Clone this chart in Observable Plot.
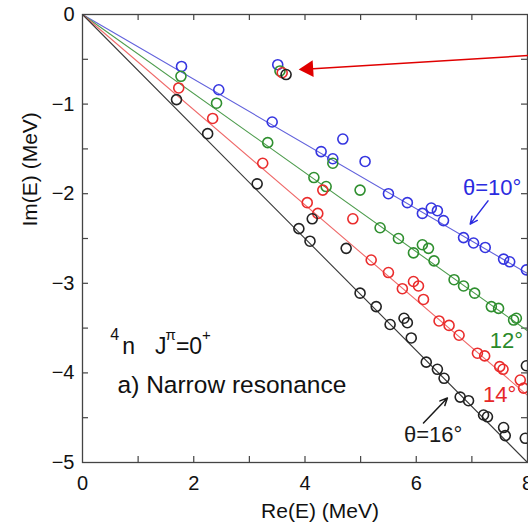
<!DOCTYPE html>
<html>
<head>
<meta charset="utf-8">
<script src="https://cdn.jsdelivr.net/npm/d3@7"></script>
<script src="https://cdn.jsdelivr.net/npm/@observablehq/plot@0.6"></script>
<style>
  html, body { margin: 0; padding: 0; background: white; overflow: hidden; }
</style>
</head>
<body>
<div id="chart"></div>
<script>
// ---- Data ----
// Complex-scaled eigenvalues [Re(E), Im(E)] in MeV for each scaling angle θ
const theta10 = [[1.78,-0.58],[2.45,-0.84],[3.41,-1.20],[4.29,-1.53],[4.50,-1.61],[4.68,-1.39],[5.08,-1.64],
  [5.50,-2.00],[5.84,-2.10],[6.11,-2.22],[6.27,-2.16],[6.38,-2.19],[6.49,-2.30],[6.85,-2.49],[7.03,-2.55],
  [7.24,-2.60],[7.57,-2.73],[7.68,-2.76],[7.98,-2.85],[3.51,-0.56]];
const theta12 = [[1.77,-0.69],[2.41,-0.99],[3.33,-1.43],[4.50,-1.66],[4.16,-1.82],[4.38,-1.92],[4.99,-1.96],
  [5.35,-2.38],[5.68,-2.50],[5.95,-2.66],[6.11,-2.57],[6.22,-2.61],[6.32,-2.75],[6.68,-2.96],[6.85,-3.03],
  [7.05,-3.11],[7.35,-3.26],[7.48,-3.28],[7.75,-3.41],[7.80,-3.39],[3.55,-0.63]];
const theta14 = [[1.73,-0.82],[2.34,-1.16],[3.24,-1.66],[4.32,-1.96],[4.04,-2.10],[4.23,-2.22],[4.86,-2.28],
  [5.19,-2.74],[5.50,-2.88],[5.75,-3.06],[5.95,-2.98],[6.04,-3.03],[6.13,-3.18],[6.41,-3.42],[6.59,-3.47],
  [6.77,-3.58],[7.10,-3.78],[7.23,-3.81],[7.50,-3.93],[7.56,-3.96],[7.87,-4.08],[7.93,-4.17],[3.59,-0.65]];
const theta16 = [[1.69,-0.95],[2.25,-1.33],[3.14,-1.89],[4.13,-2.28],[3.89,-2.39],[4.09,-2.53],[4.74,-2.61],
  [4.99,-3.11],[5.28,-3.26],[5.53,-3.46],[5.78,-3.39],[5.84,-3.44],[5.91,-3.61],[6.18,-3.88],[6.38,-3.96],
  [6.50,-4.06],[6.79,-4.27],[6.94,-4.31],[7.21,-4.47],[7.28,-4.49],[7.57,-4.61],[7.60,-4.70],[7.98,-3.92],
  [7.96,-4.73],[3.66,-0.67]];

// Rotated continuum lines: from origin to their value at Re(E)=8
const lineEnds = {t10: -2.89, t12: -3.53, t14: -4.25, t16: -5.0};

// Axis ticks
const xTickLabels = [0, 2, 4, 6, 8];
const xMinorTicks = [1, 2, 3, 4, 5, 6, 7];
const yTickLabels = [0, -1, -2, -3, -4, -5];
const yMinorTicks = [-0.5, -1, -1.5, -2, -2.5, -3, -3.5, -4, -4.5];

// Annotations
const angleLabels = [
  {x: 6.84, y: -2.02, text: "θ=10°", color: "#2b2be0"},
  {x: 7.32, y: -3.72, text: "12°", color: "#2a8a2a"},
  {x: 7.20, y: -4.33, text: "14°", color: "#e62828"},
  {x: 5.78, y: -4.77, text: "θ=16°", color: "#1a1a1a"}
];
const angleArrows = [
  {x1: 7.29, y1: -2.08, x2: 6.97, y2: -2.34, color: "#2b2be0"},
  {x1: 6.13, y1: -4.56, x2: 6.56, y2: -4.28, color: "#1a1a1a"}
];
const redArrow = {x1: 8.1, y1: -0.455, x2: 4.0, y2: -0.61};
const redHead = {x: 4.06, y: -0.608};
const titleText = {x: 0.50, y: -3.79, text: "4n Jπ=0+"};
const subText = {x: 0.63, y: -4.22, text: "a) Narrow resonance"};

// ---- Layout ----
const W = 528, H = 527, mL = 82, mR = 1, mT = 14, mB = 65;
const innerW = W - mL - mR, innerH = H - mT - mB, tick = 6;
const axisColor = "#444";
const fmt = d => (d < 0 ? "\u2212" + Math.abs(d) : String(d));

const series = [
  {pts: theta10, end: lineEnds.t10, dot: "#3535e0", line: "#6262dc"},
  {pts: theta12, end: lineEnds.t12, dot: "#2f8f2f", line: "#4f9d4f"},
  {pts: theta14, end: lineEnds.t14, dot: "#ea2c2c", line: "#ef6a6a"},
  {pts: theta16, end: lineEnds.t16, dot: "#222222", line: "#3a3a3a"}
];

const marks = [
  Plot.tickX(xMinorTicks, {x: d => d, insetTop: innerH - tick, stroke: axisColor, strokeWidth: 1.2}),
  Plot.tickX(xMinorTicks, {x: d => d, insetBottom: innerH - tick, stroke: axisColor, strokeWidth: 1.2}),
  Plot.tickY(yMinorTicks, {y: d => d, insetRight: innerW - tick, stroke: axisColor, strokeWidth: 1.2}),
  Plot.tickY(yMinorTicks, {y: d => d, insetLeft: innerW - tick, stroke: axisColor, strokeWidth: 1.2}),
  Plot.axisX({ticks: xTickLabels, tickFormat: fmt, anchor: "bottom", tickSize: 0, tickPadding: 13, fontSize: 20, label: null, color: "#111"}),
  Plot.axisY({ticks: yTickLabels, tickFormat: fmt, anchor: "left", tickSize: 0, tickPadding: 8, fontSize: 20, label: null, color: "#111"}),
  Plot.text(["Re(E) (MeV)"], {frameAnchor: "bottom", dx: 15, dy: 55, lineAnchor: "bottom", fontSize: 21, fill: "#111"}),
  Plot.text(["Im(E) (MeV)"], {frameAnchor: "left", rotate: -90, dx: -46, dy: -12, lineAnchor: "bottom", fontSize: 21, fill: "#111"})
];

for (const s of series) {
  marks.push(Plot.line([[0, 0], [8, s.end]], {x: d => d[0], y: d => d[1], stroke: s.line, strokeWidth: 1.1}));
}
for (const s of series) {
  marks.push(Plot.dot(s.pts, {x: d => d[0], y: d => d[1], r: 5, stroke: s.dot, strokeWidth: 1.6, fill: "none"}));
}

marks.push(
  Plot.frame({stroke: axisColor, strokeWidth: 1.3}),
  Plot.link([redArrow], {x1: "x1", y1: "y1", x2: "x2", y2: "y2", stroke: "#e00000", strokeWidth: 1.5}),
  Plot.dot([redHead], {x: "x", y: "y", symbol: "triangle", r: 6.2, fill: "#e00000", stroke: "none", rotate: -93.5}),
  Plot.arrow(angleArrows, {x1: "x1", y1: "y1", x2: "x2", y2: "y2", stroke: d => d.color, strokeWidth: 1.5, headLength: 8, headAngle: 50}),
  Plot.text(angleLabels, {x: "x", y: "y", text: "text", fill: d => d.color, fontSize: 22, textAnchor: "start", lineAnchor: "bottom"}),
  Plot.text([titleText], {x: "x", y: "y", text: "text", fontSize: 23, textAnchor: "start", lineAnchor: "bottom", fill: "#111"}),
  Plot.text([subText], {x: "x", y: "y", text: "text", fontSize: 24.5, textAnchor: "start", lineAnchor: "bottom", fill: "#111"})
);

const chart = Plot.plot({
  width: W, height: H,
  marginLeft: mL, marginRight: mR, marginTop: mT, marginBottom: mB,
  style: {fontFamily: "'Liberation Sans', Arial, sans-serif", background: "white", overflow: "hidden"},
  x: {domain: [0, 8]},
  y: {domain: [-5, 0]},
  color: {type: "identity"},
  marks
});

// Superscripts in the "4n Jπ=0+" label
d3.select(chart).selectAll("text").each(function () {
  if (this.textContent === titleText.text) {
    const t = d3.select(this);
    t.text(null);
    t.append("tspan").attr("font-size", 16).attr("dy", -14).text("4");
    t.append("tspan").attr("dx", 3).attr("dy", 14).text("n");
    t.append("tspan").attr("dx", 20).text("J");
    t.append("tspan").attr("font-size", 15).attr("dx", -1).attr("dy", -14).text("π");
    t.append("tspan").attr("dy", 14).text("=0");
    t.append("tspan").attr("font-size", 15).attr("dy", -14).text("+");
  }
});

document.getElementById("chart").appendChild(chart);
</script>
</body>
</html>
